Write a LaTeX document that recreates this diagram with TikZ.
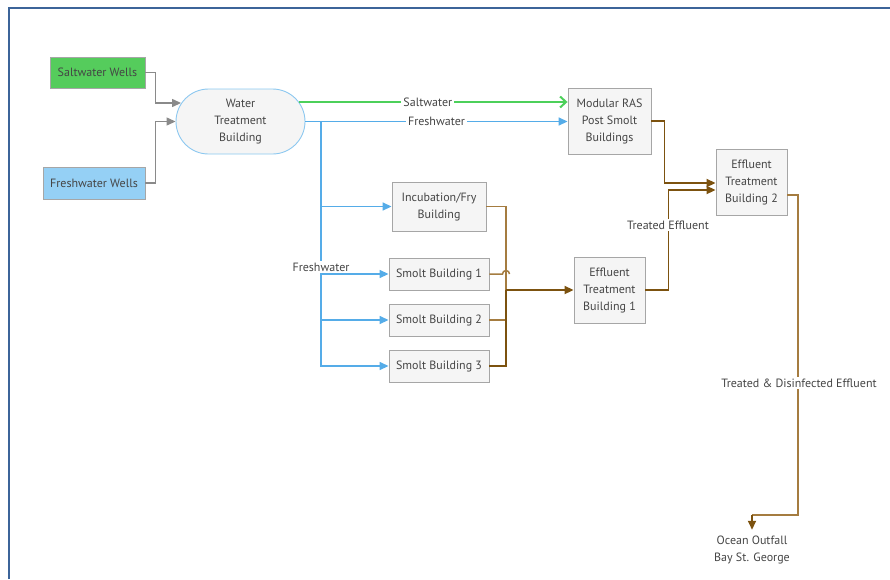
\documentclass[tikz,border=0pt]{standalone}
\usepackage{fontspec}
\setmainfont{PT Sans}
\usetikzlibrary{arrows.meta,calc,shapes.misc}
\definecolor{txt}{HTML}{454545}
\definecolor{boxline}{HTML}{A6A6A6}
\definecolor{boxfill}{HTML}{F5F5F5}
\definecolor{saltfill}{HTML}{55CC5C}
\definecolor{freshfill}{HTML}{95D0F5}
\definecolor{ovalline}{HTML}{8CC8F0}
\definecolor{greyline}{HTML}{8A8A8A}
\definecolor{greenline}{HTML}{4CD05A}
\definecolor{blueline}{HTML}{55ACE8}
\definecolor{brownlight}{HTML}{A57C40}
\definecolor{browndark}{HTML}{7C520F}
\definecolor{framecol}{HTML}{3C6499}
\begin{document}
\begin{tikzpicture}[x=1pt,y=-1pt,
  every node/.style={font=\fontsize{12}{17}\selectfont, text=txt, align=center, inner sep=0pt},
  bldg/.style={draw=boxline, fill=boxfill, line width=0.9pt},
  tri/.style={-{Triangle[length=9pt,width=8pt]}},
  greyarrow/.style={draw=greyline, line width=1.3pt, tri},
  greenarrow/.style={draw=greenline, line width=2pt, -{Straight Barb[length=6pt,width=11pt,line width=2pt]}},
  bluearrow/.style={draw=blueline, line width=1.5pt, tri, color=blueline},
  brownline/.style={draw=brownlight, line width=1.5pt},
  brownarrow/.style={draw=browndark, line width=1.8pt, tri, color=browndark},
  lbl/.style={fill=white, inner xsep=2pt, inner ysep=2pt}]
  \useasboundingbox (0,0) rectangle (890,579);
  \draw[framecol, line width=2pt] (9,579) -- (9,8) -- (891,8);

  % buildings and sources
  \node[bldg, fill=saltfill, minimum width=95pt, minimum height=31pt] (sw) at (97.5,72.5) {Saltwater Wells};
  \node[bldg, fill=freshfill, minimum width=102pt, minimum height=32pt] (fw) at (94,183) {Freshwater Wells};
  \node[rounded rectangle, draw=ovalline, fill=boxfill, line width=0.9pt, minimum width=129pt, minimum height=65pt] (wtb) at (240.5,121.5) {Water\\Treatment\\Building};
  \node[bldg, minimum width=83pt, minimum height=66pt] (ras) at (609.5,121) {Modular RAS\\Post Smolt\\Buildings};
  \node[bldg, minimum width=94pt, minimum height=49pt] (inc) at (439,206.5) {Incubation/Fry\\Building};
  \node[bldg, minimum width=100pt, minimum height=32pt] (s1) at (439,274) {Smolt Building 1};
  \node[bldg, minimum width=100pt, minimum height=32pt] (s2) at (439,320) {Smolt Building 2};
  \node[bldg, minimum width=100pt, minimum height=32pt] (s3) at (439,366) {Smolt Building 3};
  \node[bldg, minimum width=71pt, minimum height=66pt] (etb1) at (609.5,290) {Effluent\\Treatment\\Building 1};
  \node[bldg, minimum width=71pt, minimum height=66pt] (etb2) at (751.5,182) {Effluent\\Treatment\\Building 2};
  \node (ocean) at (752,550) {Ocean Outfall\\Bay St. George};

  % well supply into water treatment
  \draw[greyarrow] (sw.east) -- ++(10,0) |- ($(wtb.west)+(5.5,-18.5)$);
  \draw[greyarrow] (fw.east) -- ++(10,0) |- (wtb.west);

  % saltwater and freshwater mains
  \draw[greenarrow] ($(wtb.east)+(-6.5,-19.5)$) -- ($(ras.west)+(0,-19)$)
    node[lbl, pos=0.48] {Saltwater};
  \draw[bluearrow] (wtb.east) -- (ras.west |- wtb.east)
    node[lbl, pos=0.5] {Freshwater};
  \coordinate (fb) at (321,121);
  \draw[bluearrow] (fb) |- (inc.west);
  \draw[bluearrow] (fb) |- (s2.west);
  \draw[bluearrow] (fb) |- (s3.west);
  \draw[bluearrow] (fb) |- (s1.west);
  \node[lbl] at (321,267) {Freshwater};

  % effluent collection
  \coordinate (bt) at (506,290);
  \draw[brownline] (inc.east) -| (bt);
  \draw[brownline] (s2.east) -| (bt);
  \draw[browndark, line width=1.5pt] (s3.east) -| (bt);
  \draw[brownline] (s1.east) -- (502.5,274) arc[start angle=180, end angle=360, radius=3.5];
  \draw[brownarrow] (bt) -- (etb1.west);

  % to effluent treatment building 2
  \draw[brownarrow] (ras.east) -- ++(13,0) |- ($(etb2.west)+(0,1)$);
  \draw[brownarrow] (etb1.east) -- ++(23,0) |- ($(etb2.west)+(0,8)$);
  \node[lbl] at (668,225) {Treated Effluent};

  % discharge to the outfall
  \draw[brownline] ($(etb2.east)+(0,13)$) -- (798,195) -- (798,515) -- (752,515);
  \draw[brownarrow] (752,515) -- ($(ocean.north)+(0,-6)$);
  \node[lbl] at (799,383) {Treated \& Disinfected Effluent};
\end{tikzpicture}
\end{document}
